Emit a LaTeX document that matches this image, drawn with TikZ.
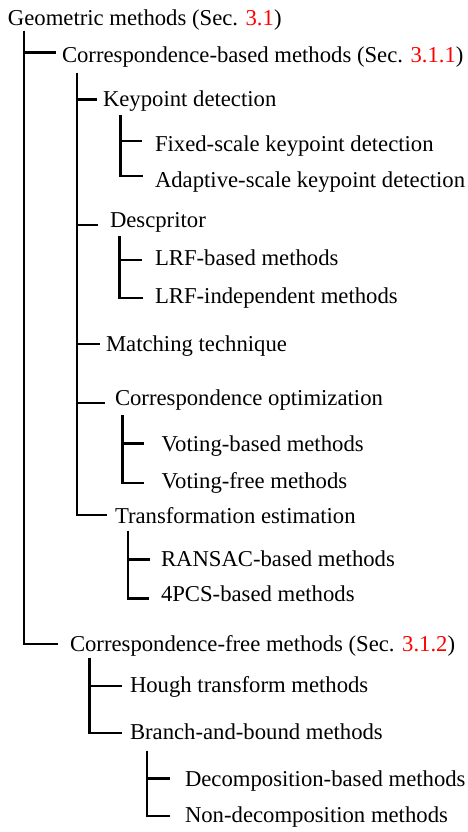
\documentclass[tikz,border=0pt]{standalone}
\usepackage{fontspec}
\setmainfont{Liberation Serif}
\usetikzlibrary{calc}
\begin{document}
\begin{tikzpicture}[x=1pt,y=1pt,
  lbl/.style={anchor=base west,inner sep=0pt,outer sep=0pt,font=\fontsize{22.7}{27}\selectfont},
  br/.style={line width=2.4pt,line join=miter,line cap=butt}]
\useasboundingbox (0,0) rectangle (467,-832);
\newcommand{\secref}[1]{\textcolor{red}{#1}}
% nodes
\node[lbl] (root) at (8,-26) {Geometric methods (Sec. \secref{3.1})};
\node[lbl] (cb) at (62,-62.7) {Correspondence-based methods (Sec. \secref{3.1.1})};
\node[lbl] (kp) at (103,-106.5) {Keypoint detection};
\node[lbl] (fx) at (155,-151) {Fixed-scale keypoint detection};
\node[lbl] (ad) at (155,-187) {Adaptive-scale keypoint detection};
\node[lbl] (de) at (110,-227) {Descpritor};
\node[lbl] (lb) at (155,-265) {LRF-based methods};
\node[lbl] (li) at (155,-303.5) {LRF-independent methods};
\node[lbl] (mt) at (106,-351.7) {Matching technique};
\node[lbl] (co) at (115,-405) {Correspondence optimization};
\node[lbl] (vb) at (161.7,-451.7) {Voting-based methods};
\node[lbl] (vf) at (161.7,-488.3) {Voting-free methods};
\node[lbl] (te) at (115,-523) {Transformation estimation};
\node[lbl] (rs) at (161,-566) {RANSAC-based methods};
\node[lbl] (pc) at (161,-601.7) {4PCS-based methods};
\node[lbl] (cf) at (70,-651.7) {Correspondence-free methods (Sec. \secref{3.1.2})};
\node[lbl] (ho) at (130,-692.7) {Hough transform methods};
\node[lbl] (bb) at (130,-739.3) {Branch-and-bound methods};
\node[lbl] (dc) at (185,-786.7) {Decomposition-based methods};
\node[lbl] (nd) at (185,-822.7) {Non-decomposition methods};
% vertical tops
\coordinate (v0) at (23.8,-30.7);
\coordinate (v1) at (76.7,-72.7);
\coordinate (v2) at (120.5,-115);
\coordinate (v3) at (119.5,-236);
\coordinate (v4) at (122.3,-415);
\coordinate (v5) at (127.7,-530.7);
\coordinate (v6) at (89.3,-657.7);
\coordinate (v7) at (146.7,-750.7);
% branch ends (just left of each child label)
\coordinate (ecb) at ([xshift=-6pt,yshift=10pt]cb.base west);
\coordinate (ecf) at ([xshift=-11.7pt,yshift=7.7pt]cf.base west);
\coordinate (ekp) at ([xshift=-6.5pt,yshift=7pt]kp.base west);
\coordinate (ede) at ([xshift=-12pt,yshift=2pt]de.base west);
\coordinate (emt) at ([xshift=-6pt,yshift=7.7pt]mt.base west);
\coordinate (eco) at ([xshift=-10pt,yshift=2.3pt]co.base west);
\coordinate (ete) at ([xshift=-8pt,yshift=8pt]te.base west);
\coordinate (efx) at ([xshift=-13pt,yshift=10pt]fx.base west);
\coordinate (ead) at ([xshift=-12pt,yshift=11pt]ad.base west);
\coordinate (elb) at ([xshift=-13.3pt,yshift=5pt]lb.base west);
\coordinate (eli) at ([xshift=-12pt,yshift=5.5pt]li.base west);
\coordinate (evb) at ([xshift=-17.4pt,yshift=8.4pt]vb.base west);
\coordinate (evf) at ([xshift=-17.4pt,yshift=5.6pt]vf.base west);
\coordinate (ers) at ([xshift=-11pt,yshift=6.7pt]rs.base west);
\coordinate (epc) at ([xshift=-12pt,yshift=3.4pt]pc.base west);
\coordinate (eho) at ([xshift=-8.3pt,yshift=6.7pt]ho.base west);
\coordinate (ebb) at ([xshift=-8pt,yshift=6.6pt]bb.base west);
\coordinate (edc) at ([xshift=-15pt,yshift=8.4pt]dc.base west);
\coordinate (end) at ([xshift=-15pt,yshift=6.7pt]nd.base west);
% connectors: one vertical per group ending in the last child, plus side branches
\draw[br] (v0) |- (ecf);
\draw[br] (v0 |- ecb) -- (ecb);
\draw[br] (v1) |- (ete);
\draw[br] (v1 |- ekp) -- (ekp);
\draw[br] (v1 |- ede) -- (ede);
\draw[br] (v1 |- emt) -- (emt);
\draw[br] (v1 |- eco) -- (eco);
\draw[br] (v2) |- (ead);
\draw[br] (v2 |- efx) -- (efx);
\draw[br] (v3) |- (eli);
\draw[br] (v3 |- elb) -- (elb);
\draw[br] (v4) |- (evf);
\draw[br] (v4 |- evb) -- (evb);
\draw[br] (v5) |- (epc);
\draw[br] (v5 |- ers) -- (ers);
\draw[br] (v6) |- (ebb);
\draw[br] (v6 |- eho) -- (eho);
\draw[br] (v7) |- (end);
\draw[br] (v7 |- edc) -- (edc);
\end{tikzpicture}
\end{document}
